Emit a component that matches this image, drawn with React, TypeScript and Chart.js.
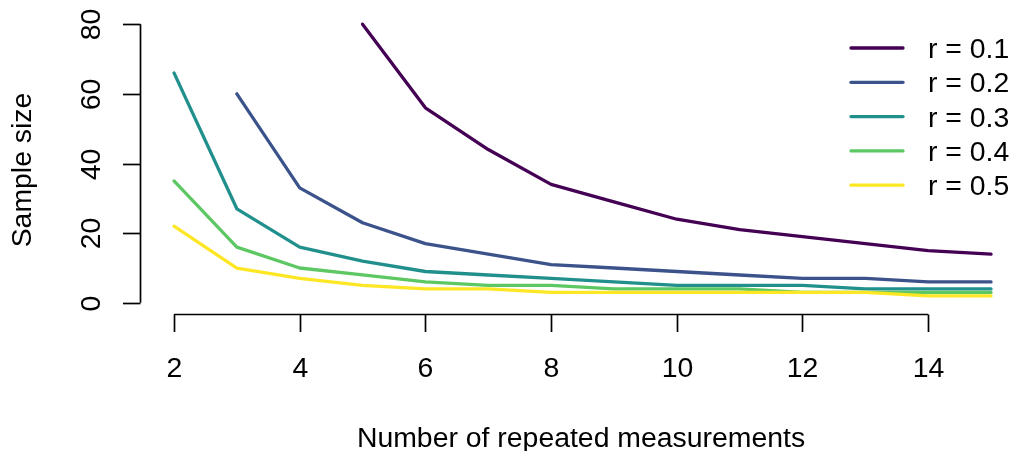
import React, { useEffect, useRef } from "react";
import { Chart, registerables } from "chart.js";

Chart.register(...registerables);

const repeats = [2, 3, 4, 5, 6, 7, 8, 9, 10, 11, 12, 13, 14, 15];
const seriesLabels = ["r = 0.1", "r = 0.2", "r = 0.3", "r = 0.4", "r = 0.5"];
const seriesColors = ["#440154", "#3B528B", "#21908C", "#5DC863", "#FDE725"];
const r01 = [null, null, null, 80, 56, 44, 34, 29, 24, 21, 19, 17, 15, 14];
const r02 = [null, 60, 33, 23, 17, 14, 11, 10, 9, 8, 7, 7, 6, 6];
const r03 = [66, 27, 16, 12, 9, 8, 7, 6, 5, 5, 5, 4, 4, 4];
const r04 = [35, 16, 10, 8, 6, 5, 5, 4, 4, 4, 3, 3, 3, 3];
const r05 = [22, 10, 7, 5, 4, 4, 3, 3, 3, 3, 3, 3, 2, 2];
const seriesValues = [r01, r02, r03, r04, r05];
const xTicks = [2, 4, 6, 8, 10, 12, 14];
const yTicks = [0, 20, 40, 60, 80];
const xTitle = "Number of repeated measurements";
const yTitle = "Sample size";

const FONT = "28.4px 'Liberation Sans', Arial, sans-serif";

const rAxesPlugin = {
  id: "rAxes",
  afterDraw(chart: any) {
    const ctx = chart.ctx;
    const xs = chart.scales.x;
    const ys = chart.scales.y;
    ctx.save();
    ctx.strokeStyle = "#000";
    ctx.fillStyle = "#000";
    ctx.lineWidth = 1.7;
    ctx.font = FONT;

    // x axis
    const axY = 314.5;
    ctx.beginPath();
    ctx.moveTo(xs.getPixelForValue(xTicks[0]), axY);
    ctx.lineTo(xs.getPixelForValue(xTicks[xTicks.length - 1]), axY);
    ctx.stroke();
    ctx.textAlign = "center";
    ctx.textBaseline = "alphabetic";
    xTicks.forEach((t) => {
      const px = Math.round(xs.getPixelForValue(t)) + 0.5;
      ctx.beginPath();
      ctx.moveTo(px, axY);
      ctx.lineTo(px, 332);
      ctx.stroke();
      ctx.fillText(String(t), px, 377);
    });
    ctx.fillText(xTitle, (chart.chartArea.left + chart.chartArea.right) / 2, 447);

    // y axis
    const axX = 140.5;
    ctx.beginPath();
    ctx.moveTo(axX, ys.getPixelForValue(yTicks[0]));
    ctx.lineTo(axX, ys.getPixelForValue(yTicks[yTicks.length - 1]));
    ctx.stroke();
    yTicks.forEach((t) => {
      const py = Math.round(ys.getPixelForValue(t)) + 0.5;
      ctx.beginPath();
      ctx.moveTo(axX, py);
      ctx.lineTo(123, py);
      ctx.stroke();
      ctx.save();
      ctx.translate(100, py);
      ctx.rotate(-Math.PI / 2);
      ctx.fillText(String(t), 0, 0);
      ctx.restore();
    });
    ctx.save();
    ctx.translate(31, 170);
    ctx.rotate(-Math.PI / 2);
    ctx.fillText(yTitle, 0, 0);
    ctx.restore();

    // legend
    ctx.lineWidth = 3.3;
    ctx.lineCap = "round";
    ctx.textAlign = "left";
    seriesLabels.forEach((lab, i) => {
      const ly = 48 + i * 34.3;
      ctx.strokeStyle = seriesColors[i];
      ctx.beginPath();
      ctx.moveTo(851, ly);
      ctx.lineTo(903, ly);
      ctx.stroke();
      ctx.fillText(lab, 928, ly + 10);
    });
    ctx.restore();
  },
};

export default function App() {
  const ref = useRef<HTMLCanvasElement | null>(null);
  useEffect(() => {
    if (!ref.current) return;
    const datasets = seriesValues.map((vals, i) => ({
      label: seriesLabels[i],
      data: repeats
        .map((x, j) => ({ x, y: vals[j] }))
        .filter((p) => p.y !== null),
      borderColor: seriesColors[i],
      backgroundColor: seriesColors[i],
      borderWidth: 3.3,
      pointRadius: 0,
      tension: 0,
      borderCapStyle: "round" as const,
      borderJoinStyle: "round" as const,
      order: seriesValues.length - 1 - i,
    }));
    const chart = new Chart(ref.current, {
      type: "line",
      data: { datasets },
      options: {
        animation: false,
        responsive: false,
        devicePixelRatio: 1,
        layout: { padding: { left: 141, right: 0, top: 13, bottom: 137 } },
        plugins: { legend: { display: false }, tooltip: { enabled: false } },
        scales: {
          x: { type: "linear", min: 1.475, max: 15.477, display: false },
          y: { type: "linear", min: -3.2, max: 83.2, display: false },
        },
      },
      plugins: [rAxesPlugin],
    });
    return () => chart.destroy();
  }, []);
  return (
    <div style={{ position: "fixed", left: 0, top: 0, width: 1021, height: 451, background: "#fff" }}>
      <canvas ref={ref} width={1021} height={451} style={{ display: "block" }} />
    </div>
  );
}
